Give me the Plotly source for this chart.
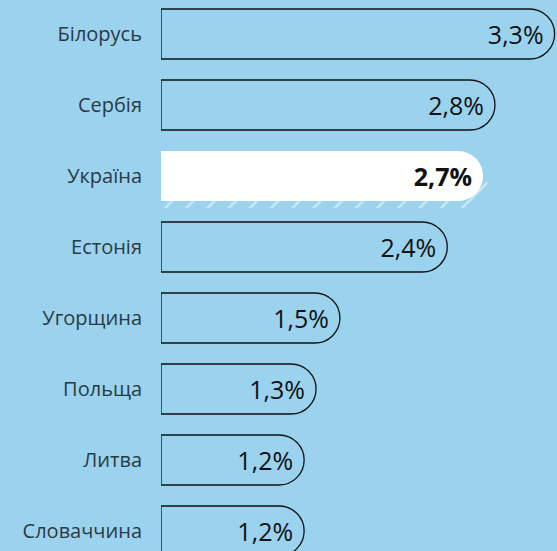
import plotly.graph_objects as go

countries = ["Білорусь", "Сербія", "Україна", "Естонія", "Угорщина", "Польща", "Литва", "Словаччина"]
values = [3.3, 2.8, 2.7, 2.4, 1.5, 1.3, 1.2, 1.2]
highlight = "Україна"

BG = "#9bd3ee"
pos = list(range(len(countries)))
texts = []
for c, v in zip(countries, values):
    s = f"{v:.1f}".replace(".", ",") + "%"
    texts.append(f"<b>{s}</b>" if c == highlight else s)

fills = ["white" if c == highlight else "rgba(0,0,0,0)" for c in countries]
lw = [0 if c == highlight else 1.3 for c in countries]

hi = countries.index(highlight)
BW = 50 / 71

fig = go.Figure()
# hatched shadow under highlighted bar
fig.add_trace(go.Bar(
    x=[values[hi] + 0.04], y=[pos[hi] + 7 / 71], orientation="h", width=BW,
    marker=dict(color="rgba(0,0,0,0)", line=dict(width=0), cornerradius=25,
                pattern=dict(shape="/", fgcolor="white", bgcolor="rgba(0,0,0,0)",
                             size=15, solidity=0.15)),
    hoverinfo="skip", showlegend=False,
))
fig.add_trace(go.Bar(
    x=values, y=pos, orientation="h", width=BW,
    marker=dict(color=fills, line=dict(color="#111111", width=lw), cornerradius=25),
    text=texts, textposition="inside", insidetextanchor="end", textangle=0,
    textfont=dict(family="Open Sans", size=25, color="#111111"),
    showlegend=False,
))

fig.update_layout(
    width=557, height=551,
    margin=dict(l=161, r=0, t=0, b=0),
    paper_bgcolor=BG, plot_bgcolor=BG,
    barmode="overlay",
    xaxis=dict(range=[0, 3.32], visible=False, fixedrange=True),
    yaxis=dict(range=[7.282, -0.479], tickvals=pos, ticktext=countries,
               showgrid=False, zeroline=False, showline=False, ticks="",
               ticklabelstandoff=18, fixedrange=True,
               tickfont=dict(family="Open Sans", size=20, color="#2b3a42")),
)
fig.write_html(
    "out.html",
    config={"displayModeBar": False},
    post_script="document.body.style.margin='0';document.body.style.background='%s';" % BG,
)
